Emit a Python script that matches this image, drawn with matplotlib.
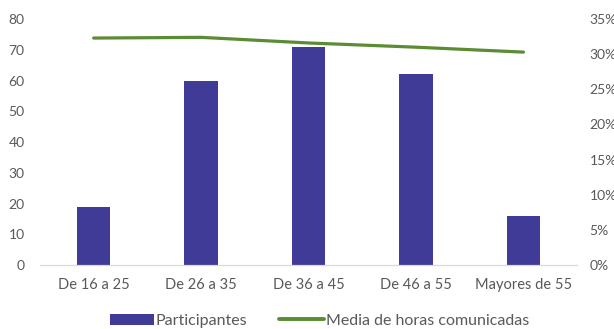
import matplotlib.pyplot as plt
from matplotlib.ticker import PercentFormatter

# Age groups, number of participants and mean share of reported hours
grupos = ["De 16 a 25", "De 26 a 35", "De 36 a 45", "De 46 a 55", "Mayores de 55"]
participantes = [19, 60, 71, 62, 16]
media_horas = [0.323, 0.324, 0.316, 0.310, 0.303]

bar_colour = "#3F3B97"
line_colour = "#5B8C34"
text_colour = "#595959"

plt.rcParams["font.family"] = ["Lato", "DejaVu Sans"]

fig = plt.figure(figsize=(6.14, 3.29), dpi=100)
ax = fig.add_axes([0.065, 0.1945, 0.875, 0.7475])
ax2 = ax.twinx()

x = range(len(grupos))
bars = ax.bar(x, participantes, width=0.31, color=bar_colour, label="Participantes", zorder=2)
line, = ax2.plot(x, media_horas, color=line_colour, linewidth=2.3,
                 solid_capstyle="round", label="Media de horas comunicadas", zorder=3)

ax.set_xlim(-0.5, len(grupos) - 0.5)
ax.set_ylim(0, 80)
ax.set_yticks(range(0, 81, 10))
ax2.set_ylim(0, 0.35)
ax2.set_yticks([i * 0.05 for i in range(8)])
ax2.yaxis.set_major_formatter(PercentFormatter(1.0, decimals=0))

ax.set_xticks(list(x))
ax.set_xticklabels(grupos)

for a in (ax, ax2):
    for side in ("top", "left", "right"):
        a.spines[side].set_visible(False)
    a.spines["bottom"].set_color("#D9D9D9")
    a.tick_params(length=0, colors=text_colour, labelsize=10)
ax.tick_params(axis="x", labelsize=10.5, pad=9)
ax.tick_params(axis="y", pad=11)
ax2.tick_params(axis="y", pad=9)

fig.legend([bars, line], ["Participantes", "Media de horas comunicadas"],
           loc="center", bbox_to_anchor=(0.52, 0.025), ncol=2, frameon=False,
           handlelength=2.8, handleheight=0.75, columnspacing=2.0, handletextpad=0.1,
           fontsize=11.5, labelcolor=text_colour)
leg_line = fig.legends[0].get_lines()[0]
leg_line.set_linewidth(2.8)

fig.savefig("out.png", dpi=100)
